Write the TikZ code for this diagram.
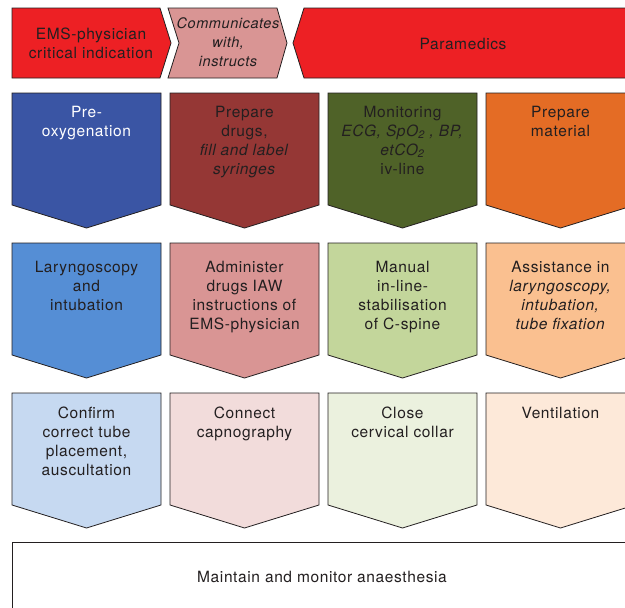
\documentclass[tikz,border=0pt]{standalone}
\usepackage{fontspec}
\setmainfont{TeX Gyre Heros}[LetterSpace=4]
\usepackage{xcolor}
\usepackage{tikz}

\definecolor{emsred}{HTML}{ED2024}
\definecolor{commpink}{HTML}{D99594}
\definecolor{blueA}{HTML}{3A55A4}
\definecolor{redA}{HTML}{953735}
\definecolor{greenA}{HTML}{4F6228}
\definecolor{orangeA}{HTML}{E46C25}
\definecolor{blueB}{HTML}{558ED5}
\definecolor{redB}{HTML}{D99594}
\definecolor{greenB}{HTML}{C3D69B}
\definecolor{orangeB}{HTML}{FAC090}
\definecolor{blueC}{HTML}{C6D9F1}
\definecolor{redC}{HTML}{F2DCDB}
\definecolor{greenC}{HTML}{EBF1DE}
\definecolor{orangeC}{HTML}{FDE9D9}
\definecolor{inkgray}{HTML}{231F20}

\begin{document}
\begin{tikzpicture}[x=1pt, y=-1pt,
		box/.style={draw=inkgray, line width=0.8pt, line join=miter},
		txt/.style={inner sep=0pt, align=center, text=inkgray, font=\fontsize{15.5}{19}\selectfont},
		itxt/.style={txt, font=\fontsize{14.5}{19}\selectfont\itshape}]
				\useasboundingbox (0,0) rectangle (625,608);
				\clip (0,0) rectangle (625,608);
				
				\draw [box, fill=emsred] (12,8) -- ++(148,0) -- ++(11,35) -- ++(-11,35) -- ++(-148,0) -- cycle;
				\draw [box, fill=commpink] (168,8) -- ++(109,0) -- ++(10,35) -- ++(-10,35) -- ++(-109,0) -- ++(11,-35) -- cycle;
				\draw [box, fill=emsred] (293,43) -- ++(11,-35) -- ++(340,0) -- ++(0,70) -- ++(-340,0) -- cycle;
				\node [txt] (ems) at (91,43) {EMS-physician\\critical indication};
				\node [itxt] (comm) at (228,42.5) {Communicates\\with,\\instructs};
				\node [txt] (para) at (463,44) {Paramedics};
				
				% second row
				\draw [box, fill=blueA] (12,93) -- ++(149,0) -- ++(0,112) -- ++(-74.5,23) -- ++(-74.5,-23) -- cycle;
				\draw [box, fill=redA] (170,93) -- ++(149,0) -- ++(0,112) -- ++(-74.5,23) -- ++(-74.5,-23) -- cycle;
				\draw [box, fill=greenA] (328,93) -- ++(149,0) -- ++(0,112) -- ++(-74.5,23) -- ++(-74.5,-23) -- cycle;
				\draw [box, fill=orangeA] (486,93) -- ++(149,0) -- ++(0,112) -- ++(-74.5,23) -- ++(-74.5,-23) -- cycle;
				\node [txt, anchor=north, text=white] (preox) at (86.5,105.5) {Pre-\\oxygenation};
				\node [txt, anchor=north] (drugs) at (244.5,105.5) {Prepare\\drugs,\\\textit{fill and label}\\\textit{syringes}};
				\node [txt, anchor=north] (monit) at (402.5,105.5) {Monitoring\\\textit{ECG, SpO\textsubscript{2} , BP,}\\\textit{etCO\textsubscript{2}}\\iv-line};
				\node [txt, anchor=north] (material) at (560.5,105.5) {Prepare\\material};
				
				% third row
				\draw [box, fill=blueB] (12,243) -- ++(149,0) -- ++(0,112) -- ++(-74.5,23) -- ++(-74.5,-23) -- cycle;
				\draw [box, fill=redB] (170,243) -- ++(149,0) -- ++(0,112) -- ++(-74.5,23) -- ++(-74.5,-23) -- cycle;
				\draw [box, fill=greenB] (328,243) -- ++(149,0) -- ++(0,112) -- ++(-74.5,23) -- ++(-74.5,-23) -- cycle;
				\draw [box, fill=orangeB] (486,243) -- ++(149,0) -- ++(0,112) -- ++(-74.5,23) -- ++(-74.5,-23) -- cycle;
				\node [txt, anchor=north] (laryng) at (86.5,260.5) {Laryngoscopy\\and\\intubation};
				\node [txt, anchor=north] (admin) at (244.5,260.5) {Administer\\drugs IAW\\instructions of\\EMS-physician};
				\node [txt, anchor=north] (manual) at (402.5,260.5) {Manual\\in-line-\\stabilisation\\of C-spine};
				\node [txt, anchor=north] (assist) at (560.5,260.5) {Assistance in\\\textit{laryngoscopy,}\\\textit{intubation,}\\\textit{tube fixation}};
				
				% fourth row
				\draw [box, fill=blueC] (12,393) -- ++(149,0) -- ++(0,112) -- ++(-74.5,23) -- ++(-74.5,-23) -- cycle;
				\draw [box, fill=redC] (170,393) -- ++(149,0) -- ++(0,112) -- ++(-74.5,23) -- ++(-74.5,-23) -- cycle;
				\draw [box, fill=greenC] (328,393) -- ++(149,0) -- ++(0,112) -- ++(-74.5,23) -- ++(-74.5,-23) -- cycle;
				\draw [box, fill=orangeC] (486,393) -- ++(149,0) -- ++(0,112) -- ++(-74.5,23) -- ++(-74.5,-23) -- cycle;
				\node [txt, anchor=north] (confirm) at (86.5,406.5) {Confirm\\correct tube\\placement,\\auscultation};
				\node [txt, anchor=north] (capno) at (244.5,406.5) {Connect\\capnography};
				\node [txt, anchor=north] (collar) at (402.5,406.5) {Close\\cervical collar};
				\node [txt, anchor=north] (vent) at (560.5,406.5) {Ventilation};
				
				\draw [box, fill=white] (12,542) rectangle (635,620);
				\node [txt] (maintain) at (322,577) {Maintain and monitor anaesthesia};
\end{tikzpicture}
\end{document}
